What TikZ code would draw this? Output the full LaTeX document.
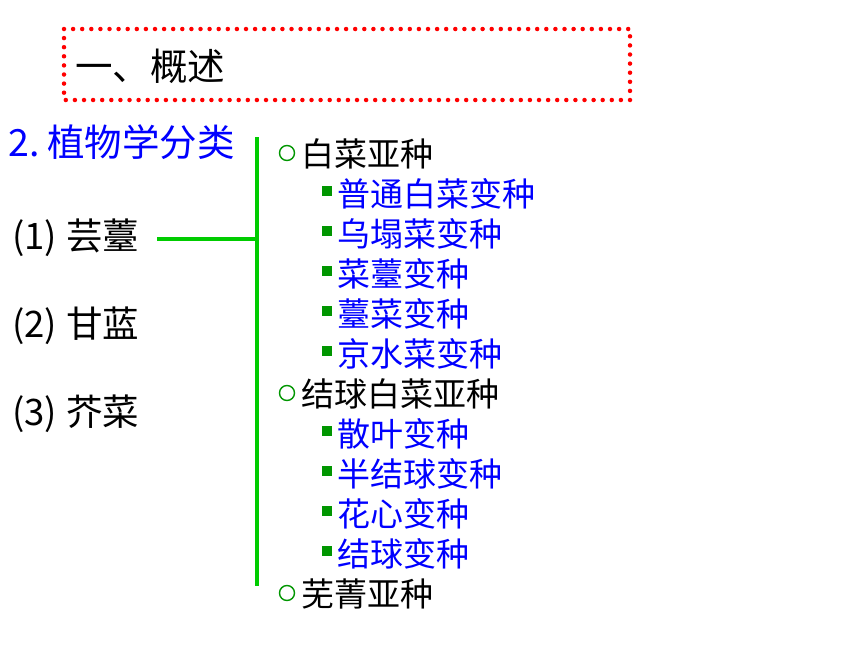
\documentclass[tikz,border=0pt]{standalone}
\usepackage{fontspec}
\setmainfont{Noto Sans CJK SC}
\definecolor{bulgreen}{RGB}{0,150,0}
\definecolor{linegreen}{RGB}{0,204,0}
\begin{document}
\begin{tikzpicture}[x=1pt,y=-1pt,
  lbl/.style={anchor=west,inner sep=0pt,font=\fontsize{36.5}{36.5}\selectfont},
  lvone/.style={anchor=west,inner sep=0pt,font=\fontsize{33}{33}\selectfont,text=black},
  lvtwo/.style={anchor=west,inner sep=0pt,font=\fontsize{33}{33}\selectfont,text=blue},
  cbul/.style={circle,draw=bulgreen,line width=1.4pt,minimum size=15pt,inner sep=0pt},
  sbul/.style={rectangle,fill=bulgreen,minimum size=10pt,inner sep=0pt},
  gline/.style={draw=linegreen,line width=4pt}]
\useasboundingbox (0,0) rectangle (860,645);
\fill[white] (0,0) rectangle (860,645);
% title box
\draw[red,line width=4.5pt,line cap=round,dash pattern=on 0pt off 9.1pt] (64,29) rectangle (630,100);
\node[anchor=west,inner sep=0pt,font=\fontsize{37.5}{37.5}\selectfont] (title) at (75,66) {一、概述};
% left labels
\node[lbl,text=blue,font=\fontsize{37.5}{37.5}\selectfont] (cls) at (8,142) {2.\hspace{8pt}植物学分类};
\node[lbl] (a1) at (12,238) {(1)\hspace{9pt}芸薹};
\node[lbl] (a2) at (12,326) {(2)\hspace{9pt}甘蓝};
\node[lbl] (a3) at (12,414) {(3)\hspace{9pt}芥菜};
% bracket
\coordinate (vt) at (257,137);
\coordinate (vb) at (257,586);
\coordinate (hl) at (157,239);
\coordinate (hr) at (257,239);
\draw[gline] (vt) -- (vb);
\draw[gline] (hl) -- (hr);
% level 1
\foreach \n/\y/\t in {b1/154/白菜亚种, b2/394/结球白菜亚种, b3/594/芜菁亚种}{
  \node[cbul] (\n c) at (287,\y-1) {};
  \node[lvone] (\n) at (301,\y) {\t};
}
% level 2
\foreach \n/\y/\t in {s1/194/普通白菜变种, s2/234/乌塌菜变种, s3/274/菜薹变种, s4/314/薹菜变种, s5/354/京水菜变种, s6/434/散叶变种, s7/474/半结球变种, s8/514/花心变种, s9/554/结球变种}{
  \node[sbul] (\n b) at (327,\y-3.5) {};
  \node[lvtwo] (\n) at (337,\y) {\t};
}
\end{tikzpicture}
\end{document}
